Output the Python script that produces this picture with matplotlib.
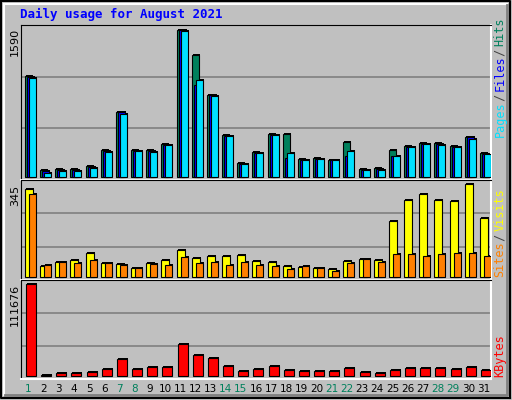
import matplotlib.pyplot as plt
from matplotlib.patches import Rectangle

days = list(range(1, 32))
weekend = [1, 7, 8, 14, 15, 21, 22, 28, 29]

hits = [1084, 79, 90, 90, 122, 295, 706, 295, 295, 360, 1590, 1310, 889, 457, 155,
        274, 468, 468, 198, 209, 187, 382, 90, 101, 295, 338, 371, 371, 338, 436, 263]
files = [1074, 69, 80, 80, 112, 285, 696, 285, 285, 350, 1580, 997, 879, 447, 145,
         264, 458, 209, 188, 199, 187, 230, 80, 91, 230, 328, 361, 361, 328, 426, 253]
pages = [1062, 47, 68, 68, 101, 274, 684, 284, 274, 349, 1570, 1051, 878, 446, 144,
         263, 457, 263, 187, 198, 187, 284, 79, 79, 230, 328, 360, 349, 328, 414, 252]
visits = [326, 39, 54, 61, 87, 50, 46, 31, 50, 61, 98, 68, 76, 76, 80,
          57, 54, 39, 35, 31, 27, 57, 65, 61, 207, 285, 307, 285, 281, 345, 218]
sites = [308, 42, 54, 50, 61, 50, 42, 31, 46, 42, 72, 50, 54, 42, 54,
         42, 39, 27, 39, 31, 20, 50, 65, 54, 83, 83, 76, 83, 87, 87, 76]
kbytes = [111676, 1200, 2850, 2850, 4000, 7700, 20000, 7700, 10200, 10200, 38300,
          24900, 21200, 11400, 5300, 7700, 11400, 6500, 5300, 5300, 5300, 9000,
          4000, 2850, 6500, 9000, 9000, 9000, 7700, 10200, 6500]

W, H = 512, 400
BG = "#C0C0C0"
GREEN, BLUE, CYAN = "#00805C", "#0000FF", "#00E0FF"
YELLOW, ORANGE, RED = "#FFFF00", "#FF8000", "#FF0000"

fig = plt.figure(figsize=(W / 100, H / 100), dpi=100, facecolor=BG)

# outer bevel
bg = fig.add_axes([0, 0, 1, 1])
bg.set_xlim(0, W)
bg.set_ylim(H, 0)
bg.axis("off")
bg.plot([1, W - 2, W - 2], [1, 1, H - 2], color="black", lw=1.5)
bg.plot([1, 1, W - 2], [1, H - 2, H - 2], color="black", lw=1.5)
bg.plot([4, W - 5], [4, 4], color="white", lw=1.5)
bg.plot([4, 4], [4, H - 5], color="white", lw=1.5)
bg.plot([5, W - 5, W - 5], [H - 5, H - 5, 5], color="#808080", lw=2)

LEFT, RIGHT = 21, 491
SLOT = (RIGHT - LEFT) / 31


def panel(top, bottom, base_px, top_px, vmax):
    ax = fig.add_axes([LEFT / W, 1 - bottom / H, (RIGHT - LEFT) / W, (bottom - top) / H])
    ax.set_facecolor(BG)
    ax.set_xlim(0.5, 31.5)
    per = vmax / (base_px - top_px)
    ax.set_ylim(-(bottom - base_px) * per, vmax + (top_px - top) * per)
    ax.set_xticks([])
    ax.set_yticks([])
    for f in (1 / 3, 2 / 3):
        ax.axhline(ax.get_ylim()[0] + f * (ax.get_ylim()[1] - ax.get_ylim()[0]),
                   color="#808080", lw=1.2, zorder=0)
    for s in ("top", "left"):
        ax.spines[s].set_color("black")
    for s in ("bottom", "right"):
        ax.spines[s].set_color("white")
        ax.spines[s].set_linewidth(1.5)
    return ax, per


def bars(ax, per, values, off_px, w_px, color):
    for d, v in zip(days, values):
        x = d - 0.5 + off_px / SLOT
        w = w_px / SLOT
        ax.add_patch(Rectangle((x + 1 / SLOT, 0), w, v + per, color="black", lw=0, zorder=2))
        ax.add_patch(Rectangle((x, 0), w, v, facecolor=color, edgecolor="black", lw=0.8, zorder=3))


ax1, p1 = panel(25, 180, 177, 29.5, 1590)
bars(ax1, p1, hits, 4, 7, GREEN)
bars(ax1, p1, files, 6, 7, BLUE)
bars(ax1, p1, pages, 8, 7, CYAN)

ax2, p2 = panel(180, 280, 276.7, 184.3, 345)
bars(ax2, p2, visits, 4, 8, YELLOW)
bars(ax2, p2, sites, 8, 7, ORANGE)

ax3, p3 = panel(280, 379, 375.7, 284.3, 111676)
bars(ax3, p3, kbytes, 5, 10, RED)

mono = "DejaVu Sans Mono"
bg.text(20, 14, "Daily usage for August 2021", color=BLUE, family=mono,
        weight="bold", fontsize=9, va="center")
for y, lab in [(28, "1590"), (185, "345"), (284, "111676")]:
    bg.text(15, y, lab, rotation=90, ha="center", va="top", fontsize=8, color="black")

for d in days:
    bg.text(LEFT + (d - 0.5) * SLOT, 389, str(d), ha="center", va="center", fontsize=7.5,
            color=GREEN if d in weekend else "black")


def side(y_bottom, parts, step=5.7):
    y = y_bottom
    for txt, col in parts:
        bg.text(500, y, txt, rotation=90, ha="center", va="bottom", family=mono,
                fontsize=8.5, color=col)
        y -= len(txt) * step


side(137, [("Pages", CYAN), (" / ", "#404040"), ("Files", BLUE), (" / ", "#404040"), ("Hits", GREEN)])
side(277, [("Sites", ORANGE), (" / ", "#404040"), ("Visits", YELLOW)])
side(377, [("KBytes", RED)])

fig.savefig("out.png", dpi=100, facecolor=BG)
